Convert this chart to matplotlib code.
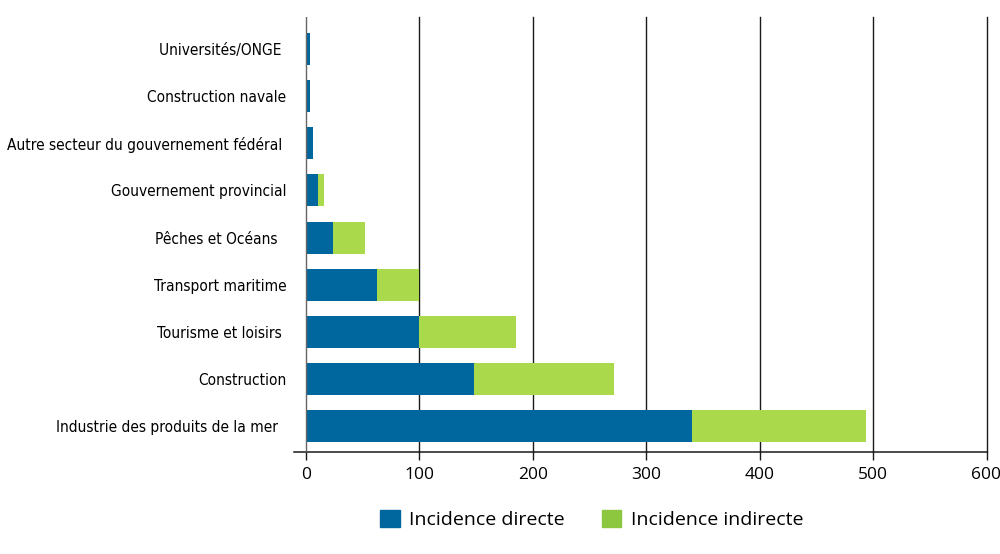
import matplotlib
matplotlib.use("Agg")
import matplotlib.pyplot as plt
from matplotlib.patches import Patch

categories = ["Industrie des produits de la mer  ", "Construction", "Tourisme et loisirs ",
              "Transport maritime", "Pêches et Océans  ", "Gouvernement provincial",
              "Autre secteur du gouvernement fédéral ", "Construction navale", "Universités/ONGE "]
direct = [340, 148, 100, 63, 24, 11, 6.4, 3.5, 3.5]
indirect = [154, 124, 85, 37, 28, 5.4, 0, 0, 0]
xticks = [0, 100, 200, 300, 400, 500, 600]

plt.rcParams['font.family'] = ['DejaVu Sans']

blue = "#00669e"
green = "#aada4b"

fig = plt.figure(figsize=(10, 5.54), dpi=100)
ax = fig.add_axes([0.2944, 0.1841, 0.6921, 0.7852])
y = list(range(len(categories)))
ax.barh(y, direct, height=0.68, color=blue, zorder=3)
ax.barh(y, indirect, left=direct, height=0.68, color=green, zorder=3)

ax.set_xlim(-10, 600)
ax.set_ylim(-0.55, 8.68)
for v in xticks[1:]:
    ax.axvline(v, color="#1a1a1a", lw=1.0, zorder=1, clip_on=False)
ax.axvline(0, color="#666666", lw=1.0, zorder=4)

for s in ["top", "right", "left"]:
    ax.spines[s].set_visible(False)
ax.spines["bottom"].set_color("#1a1a1a")
ax.spines["bottom"].set_linewidth(1.1)

ax.set_xticks(xticks)
ax.set_xticklabels([str(t) for t in xticks], fontsize=12.5, family=["Open Sans", "DejaVu Sans"])
ax.tick_params(axis="x", direction="out", length=6, width=1.0, color="#1a1a1a", pad=5)
ax.set_yticks(y)
ax.set_yticklabels(categories, fontsize=11.1, fontstretch="condensed", family="DejaVu Sans")
ax.tick_params(axis="y", length=0, pad=5.8)

handles = [Patch(color=blue, label="Incidence directe"), Patch(color="#8dc63f", label="Incidence indirecte")]
fig.legend(handles=handles, loc="center", bbox_to_anchor=(0.592, 0.062), ncol=2, frameon=False,
           prop={"family": ["Open Sans", "DejaVu Sans"], "size": 14}, handlelength=1.0, handleheight=1.0,
           columnspacing=1.9, handletextpad=0.5)

fig.savefig("out.png", dpi=100)
